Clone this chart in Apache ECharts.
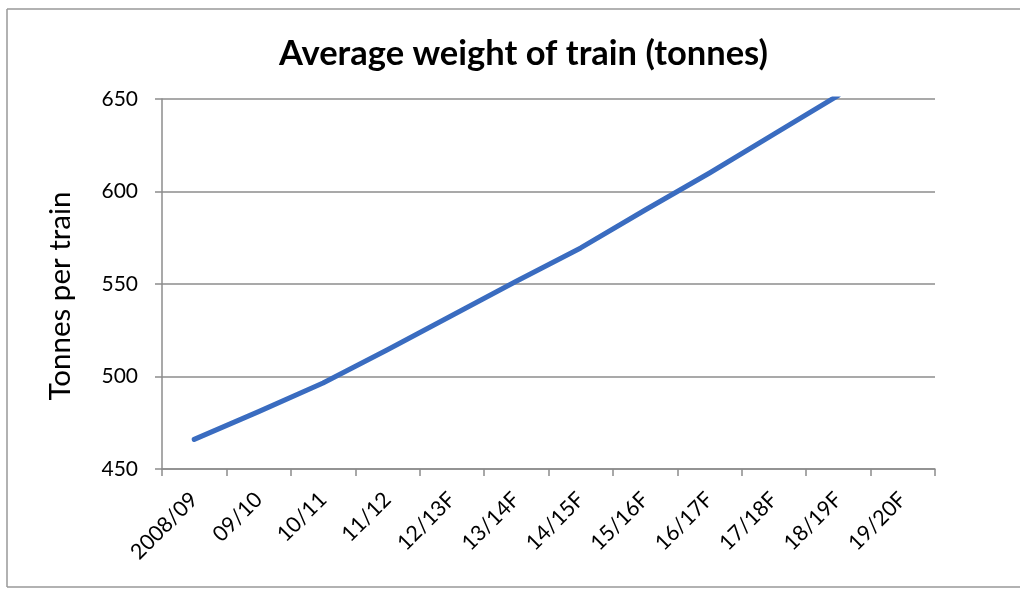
<!DOCTYPE html>
<html>
<head>
<meta charset="utf-8">
<script src="https://cdn.jsdelivr.net/npm/echarts@6/dist/echarts.min.js"></script>
<style>
html,body{margin:0;padding:0;background:#fff;}
#chart{width:1020px;height:589px;}
</style>
</head>
<body>
<div id="chart"></div>
<script>
var categories = ['2008/09','09/10','10/11','11/12','12/13F','13/14F','14/15F','15/16F','16/17F','17/18F','18/19F','19/20F'];
var tonnesPerTrain = [466, 481, 496.5, 514.5, 533, 551.5, 569.5, 590, 610, 631, 652, null];
var yTicks = [450, 500, 550, 600, 650];

var FONT = 'Lato, "Open Sans", sans-serif';
var chart = echarts.init(document.getElementById('chart'), null, {renderer:'canvas'});
chart.setOption({
  backgroundColor: '#fff',
  animation: false,
  title: {
    text: 'Average weight of train (tonnes)',
    left: 274,
    top: 31,
    textStyle: {fontFamily: FONT, fontSize: 34.5, fontWeight: 'bold', color: '#000'}
  },
  graphic: [
    {type:'line', shape:{x1:7,y1:9,x2:1020,y2:9}, style:{stroke:'#999', lineWidth:1.5}},
    {type:'line', shape:{x1:7,y1:9,x2:7,y2:587}, style:{stroke:'#999', lineWidth:1.5}},
    {type:'line', shape:{x1:7,y1:587,x2:1020,y2:587}, style:{stroke:'#999', lineWidth:1.5}},
    {type:'text', x:60, y:296, rotation:Math.PI/2,
     style:{text:'Tonnes per train', fontFamily:FONT, fontSize:29.5, fill:'#000', align:'center', verticalAlign:'middle'}}
  ],
  grid: {left:162, right:85, top:99, bottom:120, containLabel:false},
  xAxis: {
    type: 'category',
    data: categories,
    boundaryGap: true,
    axisLine: {show:true, lineStyle:{color:'#8c8c8c', width:1.5}},
    axisTick: {show:true, length:7, lineStyle:{color:'#8c8c8c', width:1.5}},
    axisLabel: {rotate:45, margin:27, fontFamily:FONT, fontSize:21.5, color:'#000', interval:0},
    splitLine: {show:false}
  },
  yAxis: {
    type: 'value',
    min: 450, max: 650, interval: 50,
    axisLine: {show:true, lineStyle:{color:'#8c8c8c', width:1.5}},
    axisTick: {show:true, length:7, lineStyle:{color:'#8c8c8c', width:1.5}},
    axisLabel: {margin:24, fontFamily:FONT, fontSize:21, color:'#000',
      formatter: function(v){ return yTicks.indexOf(v) >= 0 ? String(v) : ''; }},
    splitLine: {show:true, lineStyle:{color:'#8c8c8c', width:1.5}}
  },
  series: [{
    type: 'line',
    data: tonnesPerTrain,
    smooth: false,
    showSymbol: false,
    symbol: 'none',
    clip: true,
    lineStyle: {color:'#3a6cc0', width:5, cap:'round', join:'round'}
  }]
});
</script>
</body>
</html>
